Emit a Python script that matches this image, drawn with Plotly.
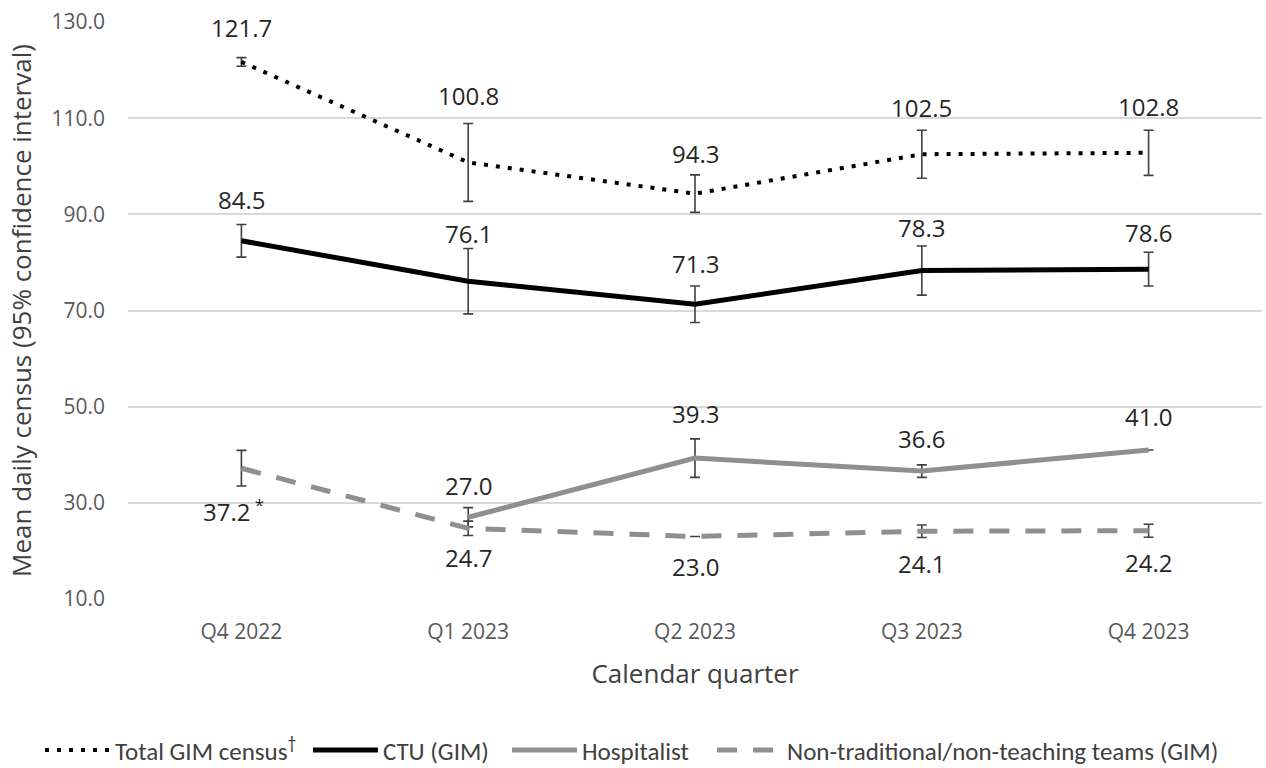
import plotly.graph_objects as go

quarters = ["Q4 2022", "Q1 2023", "Q2 2023", "Q3 2023", "Q4 2023"]

total_gim = [121.7, 100.8, 94.3, 102.5, 102.8]
total_ci = [0.9, 8.1, 3.9, 5.0, 4.7]

ctu_gim = [84.5, 76.1, 71.3, 78.3, 78.6]
ctu_ci = [3.4, 6.8, 3.8, 5.1, 3.5]

hospitalist = [None, 27.0, 39.3, 36.6, 41.0]
hospitalist_ci = [None, 2.0, 4.0, 1.3, None]

non_traditional = [37.2, 24.7, 23.0, 24.1, 24.2]
non_traditional_ci = [3.7, 1.5, None, 1.3, 1.35]

FONT = "'Open Sans', sans-serif"
LEGEND_FONT = "Carlito, Calibri, Lato, sans-serif"
ERR_COLOR = "#404040"
GREY = "#8f8f8f"

fig = go.Figure()


def add_series(name, values, ci, color, width, dash, legend):
    fig.add_trace(go.Scatter(
        x=quarters, y=values, name=name, mode="lines",
        line=dict(color=color, width=width, dash=dash),
        connectgaps=False, legend=legend,
        error_y=dict(type="data", array=ci, visible=True,
                     color=ERR_COLOR, thickness=1.6, width=5),
    ))


add_series("Total GIM census<sup>†</sup>", total_gim, total_ci, "black", 4,
           "4px,8px", "legend")
add_series("CTU (GIM)", ctu_gim, ctu_ci, "black", 5, "solid", "legend2")
add_series("Hospitalist", hospitalist, hospitalist_ci, GREY, 5, "solid", "legend3")
add_series("Non-traditional/non-teaching teams (GIM)", non_traditional,
           non_traditional_ci, GREY, 5, "20px,16px", "legend4")

# label offsets in pixels (positive = above the point)
label_shifts = {
    "total": [34, 67, 40, 47, 46],
    "ctu": [41, 48, 41, 43, 37],
    "hosp": [0, 32, 45, 33, 33],
    "nontrad": [-42, -29, -30, -32, -32],
}
label_xshift_nontrad = [-8, 0, 0, 0, 0]


def add_labels(values, shifts, xshifts=None, suffix=None):
    for i, (q, v) in enumerate(zip(quarters, values)):
        if v is None:
            continue
        txt = f"{v:.1f}"
        if suffix and suffix[i]:
            txt += suffix[i]
        fig.add_annotation(
            x=q, y=v, text=txt, showarrow=False,
            yshift=shifts[i], xshift=(xshifts[i] if xshifts else 0),
            font=dict(family=FONT, size=24, color="#262626"),
        )


add_labels(total_gim, label_shifts["total"])
add_labels(ctu_gim, label_shifts["ctu"])
add_labels(hospitalist, label_shifts["hosp"])
add_labels(non_traditional, label_shifts["nontrad"], label_xshift_nontrad,
           suffix=["<sup> *</sup>", "", "", "", ""])


def legend_box(x):
    return dict(orientation="h", x=x, xanchor="left", y=-0.262,
                yanchor="middle", bgcolor="rgba(0,0,0,0)", itemwidth=65,
                font=dict(family=LEGEND_FONT, size=25, color="#404040"))


fig.update_layout(
    width=1266, height=768,
    margin=dict(l=128, r=4, t=22, b=169, autoexpand=False),
    plot_bgcolor="white", paper_bgcolor="white",
    font=dict(family=FONT, color="#404040"),
    showlegend=True,
    legend=legend_box(-0.0776),
    legend2=legend_box(0.1587),
    legend3=legend_box(0.3342),
    legend4=legend_box(0.5150),
    xaxis=dict(
        title=dict(text="Calendar quarter", font=dict(size=26, color="#404040"),
                   standoff=20),
        tickfont=dict(size=21, color="#595959"),
        ticklabelstandoff=18,
        range=[-0.5, 4.5],
        showgrid=False, showline=False, ticks="",
    ),
    yaxis=dict(
        title=dict(text="Mean daily census (95% confidence interval)",
                   font=dict(size=26, color="#404040"), standoff=12),
        range=[10, 130], dtick=20, tick0=10, tickformat=".1f",
        tickfont=dict(size=21, color="#595959"),
        ticklabelstandoff=22,
        ticks="",
        showgrid=True, gridcolor="#d9d9d9", gridwidth=1.5,
        zeroline=False, showline=False,
    ),
)

fig.write_html("out.html")
